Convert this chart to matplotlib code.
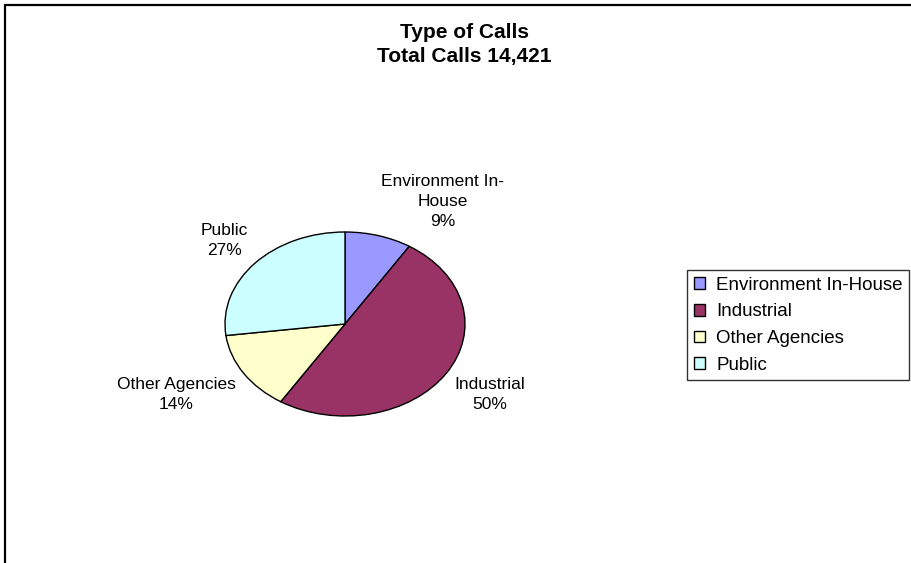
import numpy as np
import matplotlib.pyplot as plt
from matplotlib.patches import Rectangle

plt.rcParams['font.family'] = ['Liberation Sans', 'DejaVu Sans']

# call types, clockwise from 12 o'clock
categories = ['Environment In-House', 'Industrial', 'Other Agencies', 'Public']
pie_labels = ['Environment In-\nHouse', 'Industrial', 'Other Agencies', 'Public']
shares = [9, 50, 14, 27]
colors = ['#9999FF', '#993366', '#FFFFCC', '#CCFFFF']
total_calls = '14,421'

W, H = 911, 563
fig = plt.figure(figsize=(W / 100, H / 100), dpi=100)

# chart area frame (only the left and top edges fall inside the image)
fig.add_artist(Rectangle((5 / W, -0.2), 1.2, 1.2 - 5 / H,
                         transform=fig.transFigure, fill=False,
                         edgecolor='black', linewidth=1.6))

# pie drawn as an ellipse: axes box is 240 x 184 px
cx, cy, rx, ry = 345, 324, 120, 92
ax = fig.add_axes([(cx - rx) / W, 1 - (cy + ry) / H, 2 * rx / W, 2 * ry / H])
wedges, texts = ax.pie(shares, colors=colors, startangle=90, counterclock=False,
                       labels=[f'{l}\n{s}%' for l, s in zip(pie_labels, shares)],
                       labeldistance=1.08,
                       wedgeprops=dict(edgecolor='black', linewidth=1.0),
                       textprops=dict(fontsize=12.5, multialignment='center',
                                      linespacing=1.4))
ax.set_aspect('auto')
ax.set_xlim(-1, 1)
ax.set_ylim(-1, 1)

# keep labels clear of the ellipse
for t in texts:
    x, y = t.get_position()
    if y > 0.3:
        t.set_va('bottom')
    elif y < -0.3:
        t.set_va('top')

fig.text(464 / W, 1 - 44.5 / H, f'Type of Calls\nTotal Calls {total_calls}',
         ha='center', va='center', fontsize=15, fontweight='bold',
         linespacing=1.33)

leg = fig.legend(wedges, categories, loc='upper left',
                 bbox_to_anchor=(687 / W, 1 - 270 / H), fontsize=13.5,
                 frameon=True, fancybox=False, shadow=False,
                 handlelength=0.6, handleheight=0.6, handletextpad=0.6,
                 labelspacing=0.52, borderpad=0.35, borderaxespad=0)
leg.get_frame().set_edgecolor('black')
leg.get_frame().set_linewidth(1.0)

fig.savefig('out.png', dpi=100)
